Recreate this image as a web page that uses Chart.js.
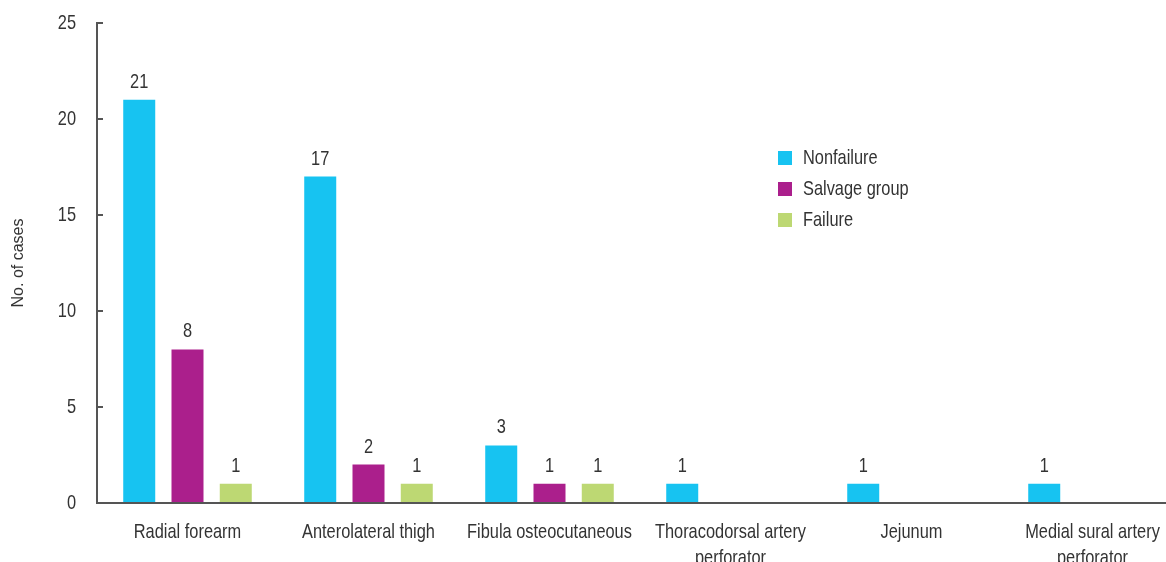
<!DOCTYPE html>
<html>
<head>
<meta charset="utf-8">
<script src="https://cdn.jsdelivr.net/npm/chart.js@4/dist/chart.umd.min.js"></script>
<style>
  html, body { margin: 0; padding: 0; background: #ffffff; overflow: hidden; }
  /* the plot runs past the right edge, so the x axis line meets the border */
  #wrap { width: 1166px; height: 562px; overflow: hidden; }
  #chart { display: block; }
</style>
</head>
<body>
<div id="wrap"><canvas id="chart" width="1183" height="562"></canvas></div>
<script>
// Flap types and number of cases per outcome group
const flapTypes = [
  'Radial forearm',
  'Anterolateral thigh',
  'Fibula osteocutaneous',
  ['Thoracodorsal artery', 'perforator'],
  'Jejunum',
  ['Medial sural artery', 'perforator']
];
const nonfailure   = [21, 17, 3, 1, 1, 1];
const salvageGroup = [8, 2, 1, null, null, null];
const failure      = [1, 1, 1, null, null, null];
const yTicks = [0, 5, 10, 15, 20, 25];

const FONT = "'Liberation Sans', Arial, sans-serif";
const TEXT = '#333333';
const AXIS = '#555555';

// Condensed lettering: large text is drawn horizontally squeezed around its anchor
const canvas = document.getElementById('chart');
const ctx2d = canvas.getContext('2d');
const SQUEEZE = 0.78;
const rawFillText = ctx2d.fillText;
const rawMeasureText = ctx2d.measureText;
function squeezeFor(c) {
  const m = /(\d+(?:\.\d+)?)px/.exec(c.font);
  return m && parseFloat(m[1]) >= 18 ? SQUEEZE : 1;
}
ctx2d.fillText = function (text, x, y) {
  const k = squeezeFor(this);
  if (k === 1) { rawFillText.call(this, text, x, y); return; }
  this.save();
  this.translate(x, y);
  this.scale(k, 1);
  rawFillText.call(this, text, 0, 0);
  this.restore();
};
ctx2d.measureText = function (text) {
  const m = rawMeasureText.call(this, text);
  const k = squeezeFor(this);
  if (k === 1) return m;
  return {
    width: m.width * k,
    actualBoundingBoxAscent: m.actualBoundingBoxAscent,
    actualBoundingBoxDescent: m.actualBoundingBoxDescent,
    actualBoundingBoxLeft: m.actualBoundingBoxLeft * k,
    actualBoundingBoxRight: m.actualBoundingBoxRight * k
  };
};

// Value labels printed above each bar
const valueLabels = {
  id: 'valueLabels',
  afterDatasetsDraw(chart) {
    const ctx = chart.ctx;
    ctx.save();
    ctx.font = '21px ' + FONT;
    ctx.fillStyle = TEXT;
    ctx.textAlign = 'center';
    ctx.textBaseline = 'alphabetic';
    chart.data.datasets.forEach((ds, i) => {
      const meta = chart.getDatasetMeta(i);
      meta.data.forEach((bar, j) => {
        const v = ds.data[j];
        if (v === null || v === undefined) return;
        ctx.fillText(String(v), bar.x, bar.y - 12);
      });
    });
    ctx.restore();
  }
};

// Vertical legend placed inside the plot area
const innerLegend = {
  id: 'innerLegend',
  afterDraw(chart) {
    const ctx = chart.ctx;
    const area = chart.chartArea;
    const x0 = area.left + 681;
    const y0 = area.top + 135;
    const rowGap = 31;
    ctx.save();
    ctx.font = '21px ' + FONT;
    ctx.textAlign = 'left';
    ctx.textBaseline = 'middle';
    chart.data.datasets.forEach((ds, i) => {
      const cy = y0 + i * rowGap;
      ctx.fillStyle = ds.backgroundColor;
      ctx.fillRect(x0, cy - 7, 14, 14);
      ctx.fillStyle = TEXT;
      ctx.fillText(ds.label, x0 + 25, cy);
    });
    ctx.restore();
  }
};

new Chart(canvas, {
  type: 'bar',
  data: {
    labels: flapTypes,
    datasets: [
      { label: 'Nonfailure', data: nonfailure, backgroundColor: '#17C3F1' },
      { label: 'Salvage group', data: salvageGroup, backgroundColor: '#AB1F8C' },
      { label: 'Failure', data: failure, backgroundColor: '#BDD873' }
    ]
  },
  options: {
    responsive: false,
    animation: false,
    devicePixelRatio: 1,
    layout: { padding: { top: 23, right: 0, bottom: 0, left: 0 } },
    datasets: {
      bar: { categoryPercentage: 0.8, barPercentage: 0.663 }
    },
    plugins: {
      legend: { display: false },
      tooltip: { enabled: false }
    },
    scales: {
      x: {
        type: 'category',
        offset: true,
        grid: { display: true, drawOnChartArea: false, drawTicks: false },
        border: { display: true, color: AXIS, width: 2 },
        ticks: {
          color: TEXT,
          font: { family: FONT, size: 21, lineHeight: 1.25 },
          padding: 16,
          maxRotation: 0,
          autoSkip: false
        },
        afterFit(scale) {
          scale.height = 59;
          scale.paddingLeft = 0;
          scale.paddingRight = 0;
        }
      },
      y: {
        min: 0,
        max: 25,
        afterBuildTicks(scale) { scale.ticks = yTicks.map(v => ({ value: v })); },
        grid: { display: true, drawOnChartArea: false, drawTicks: true, tickLength: -6, color: AXIS, lineWidth: 2 },
        border: { display: true, color: AXIS, width: 2 },
        ticks: {
          color: TEXT,
          font: { family: FONT, size: 21 },
          padding: 27
        },
        title: {
          display: true,
          text: 'No. of cases',
          color: TEXT,
          font: { family: FONT, size: 16 },
          padding: { top: 9, bottom: 0 }
        },
        afterFit(scale) {
          scale.width = 97;
          scale.paddingTop = 0;
          scale.paddingBottom = 0;
        }
      }
    }
  },
  plugins: [valueLabels, innerLegend]
});
</script>
</body>
</html>
